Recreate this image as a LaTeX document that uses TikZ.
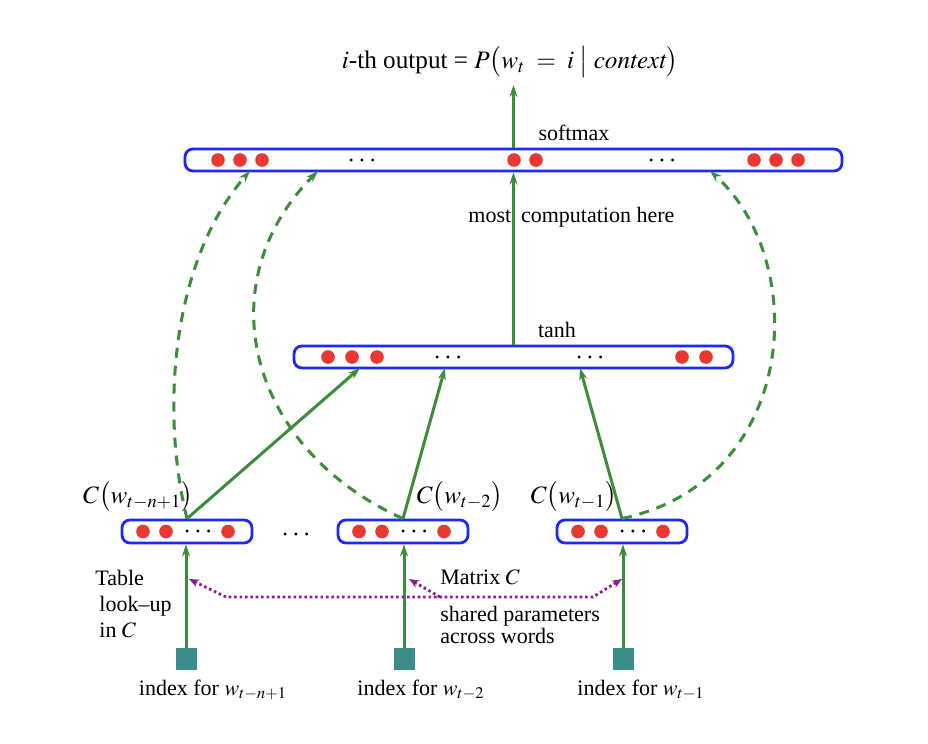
\documentclass[tikz,border=0pt]{standalone}
\usepackage{mathptmx}
\usepackage[no-math]{fontspec}
\setmainfont{Liberation Serif}
\usetikzlibrary{arrows.meta}
\definecolor{lgreen}{RGB}{60,140,60}
\definecolor{lblue}{RGB}{30,40,245}
\definecolor{lred}{RGB}{235,55,50}
\definecolor{lpurple}{RGB}{140,30,140}
\definecolor{lteal}{RGB}{60,140,140}
\begin{document}
\begin{tikzpicture}[x=0.5pt,y=-0.5pt,
 layer/.style={draw=lblue, line width=1.4pt, rounded corners=4pt, minimum height=11pt, inner sep=0pt, fill=white},
 unit/.style={circle, fill=lred, minimum size=6.8pt, inner sep=0pt},
 ell/.style={inner sep=0pt, font=\fontsize{14}{16}\selectfont},
 garrow/.style={draw=lgreen, line width=1.5pt, -{Stealth[length=6pt,width=4pt]}},
 gdash/.style={garrow, dash pattern=on 5pt off 4pt},
 parrow/.style={draw=lpurple, line width=1.4pt, dash pattern=on 1.3pt off 1.4pt},
 lbl/.style={inner sep=0pt, font=\fontsize{11}{13}\selectfont},
 clbl/.style={inner sep=0pt, font=\fontsize{12.5}{14}\selectfont},
 idx/.style={fill=lteal, minimum width=10.5pt, minimum height=11pt, inner sep=0pt}]
\useasboundingbox (0,0) rectangle (928,744);

% title
\node[lbl, font=\fontsize{12.6}{15}\selectfont] (title) at (510,62) {$i$-th output = $P\bigl(w_t \;=\; i \;\big|\; \mathit{context}\bigr)$};
\coordinate (top) at (513.5,85);

% softmax layer
\node[layer, minimum width=328.5pt] (soft) at (513.5,160) {};
\foreach \x in {218,240,262,514,536,754,776,798} \node[unit] (s\x) at (\x,160) {};
\node[ell] (sd1) at (362,161) {$\cdots$};
\node[ell] (sd2) at (662,161) {$\cdots$};
\node[lbl] (softlbl) at (574,133) {softmax};

% tanh layer
\node[layer, minimum width=219.5pt] (tanh) at (513.5,357) {};
\foreach \x in {328,352,377,682,706} \node[unit] (h\x) at (\x,357) {};
\node[ell] (hd1) at (448,358) {$\cdots$};
\node[ell] (hd2) at (590,358) {$\cdots$};
\node[lbl] (tanhlbl) at (557,330) {tanh};
\node[lbl, anchor=west] (mostlbl) at (468,217) {most\hspace{0.45em}computation here};

% word feature boxes
\foreach \n/\c in {1/187,2/403,3/622}{
  \node[layer, minimum width=65pt, minimum height=11.5pt] (b\n) at (\c,531.5) {};
  \node[unit] (b\n u1) at (\c-44,531.5) {};
  \node[unit] (b\n u2) at (\c-21,531.5) {};
  \node[unit] (b\n u3) at (\c+41,531.5) {};
  \node[ell] (b\n d) at (\c+11,532.5) {$\cdots$};
}
\node[ell] (bdots) at (296,535) {$\cdots$};
\node[clbl] (c1) at (138,497) {$C\bigl(w_{t-n+1}\bigr)$};
\node[clbl] (c2) at (460,497) {$C\bigl(w_{t-2}\bigr)$};
\node[clbl] (c3) at (574,497) {$C\bigl(w_{t-1}\bigr)$};

% index squares
\node[idx] (q1) at (186,659) {};
\node[idx] (q2) at (404,659) {};
\node[idx] (q3) at (623,659) {};
\node[lbl] (i1) at (213,690) {index for $w_{t-n+1}$};
\node[lbl] (i2) at (421,690) {index for $w_{t-2}$};
\node[lbl] (i3) at (641,690) {index for $w_{t-1}$};

% side texts
\node[lbl, anchor=west, align=left] (tbl) at (95,604) {Table\\\hspace*{2pt}look--up\\\hspace*{2pt}in $C$};
\node[lbl, anchor=west] (mat) at (440,577) {Matrix $C$};
\node[lbl, anchor=west, align=left, font=\fontsize{11}{11}\selectfont] (shared) at (440,625) {shared parameters\\across words};

% connectors
\coordinate (t1) at (360,368);
\coordinate (t2) at (445,368);
\coordinate (t3) at (580,368);
\coordinate (sl1) at (250,171);
\coordinate (sl2) at (318,171);
\coordinate (sl3) at (710,171);

\draw[garrow] (soft.north) -- (top);
\draw[garrow] (tanh.north) -- (soft.south);
\draw[garrow] (b1.north) -- (t1);
\draw[garrow] (b2.north) -- (t2);
\draw[garrow] (b3.north) -- (t3);
\draw[gdash] (b1.north) .. controls (160,410) and (172,260) .. (sl1);
\draw[gdash] (b2.north) .. controls (250,450) and (205,285) .. (sl2);
\draw[gdash] (b3.north) .. controls (800,480) and (810,260) .. (sl3);
\draw[garrow] (q1.north) -- (q1 |- b1.south);
\draw[garrow] (q2.north) -- (q2 |- b2.south);
\draw[garrow] (q3.north) -- (q3 |- b3.south);

% shared parameters (dotted purple)
\coordinate (pa) at (226,597);
\coordinate (pb) at (593,597);
\coordinate (pm) at (440,597);
\coordinate (ph1) at (189,579);
\coordinate (ph2) at (409,579);
\coordinate (ph3) at (622,579);
\draw[parrow, {Stealth[length=5pt,width=4pt]}-{Stealth[length=5pt,width=4pt]}] (ph1) -- (pa) -- (pb) -- (ph3);
\draw[parrow, -{Stealth[length=5pt,width=4pt]}] (pm) -- (ph2);
\end{tikzpicture}
\end{document}
